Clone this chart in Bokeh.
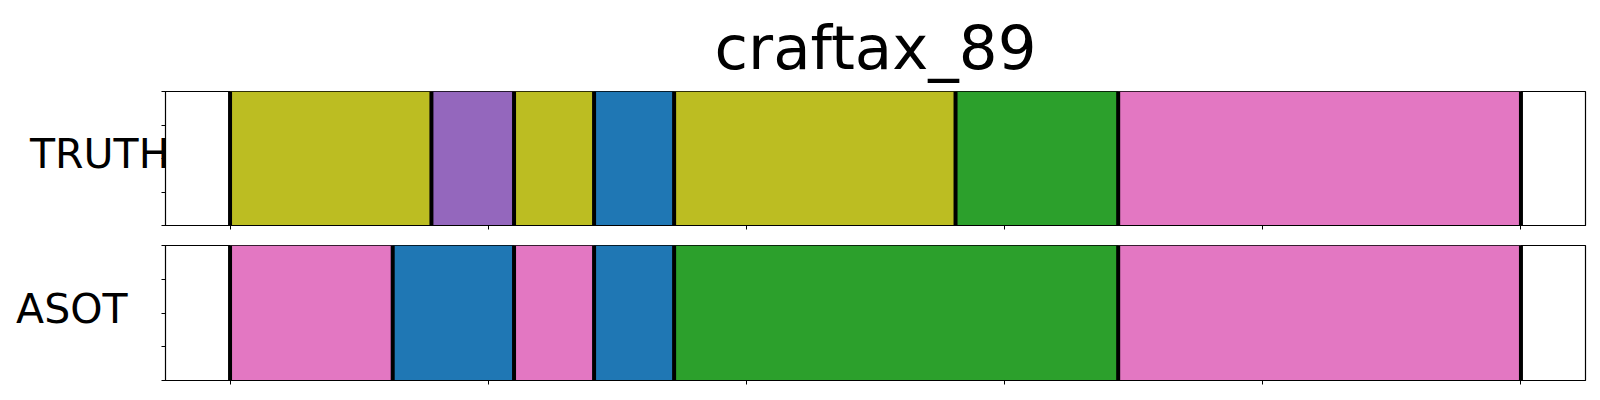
from bokeh.plotting import figure
from bokeh.layouts import column
from bokeh.models import FixedTicker, Range1d, LinearAxis
from bokeh.embed import file_html
from bokeh.resources import INLINE

# ---- data ----
title_text = "craftax_89"
row_names = ["TRUTH", "ASOT"]

truth_starts = [0, 78, 110, 141, 172, 281, 344]
truth_ends = [78, 110, 141, 172, 281, 344, 500]
truth_classes = ["olive", "purple", "olive", "blue", "olive", "green", "pink"]

asot_starts = [0, 63, 110, 141, 172, 344]
asot_ends = [63, 110, 141, 172, 344, 500]
asot_classes = ["pink", "blue", "pink", "blue", "green", "pink"]

x_ticks = [0, 100, 200, 300, 400, 500]
y_ticks = [0, 0.25, 0.5, 0.75, 1.0]

palette = {
    "blue": "#1f77b4",
    "green": "#2ca02c",
    "purple": "#9467bd",
    "pink": "#e377c2",
    "olive": "#bcbd22",
}

FONT = "DejaVu Sans"
W = 1592
NAME_Y = 0.53


def panel(name, starts, ends, classes, height, btop, bbottom, name_standoff, with_title=False):
    p = figure(width=W, height=height, x_range=Range1d(-25, 525), y_range=Range1d(0, 1),
               output_backend="svg", toolbar_location=None,
               min_border_left=165, min_border_right=7,
               min_border_top=btop, min_border_bottom=bbottom)
    p.grid.visible = False
    p.outline_line_color = "black"
    p.outline_line_width = 1.2
    p.background_fill_color = "white"

    p.quad(left=starts, right=ends, bottom=0, top=1,
           fill_color=[palette[c] for c in classes], line_color=None)
    bounds = sorted(set(starts) | set(ends))
    p.segment(x0=bounds, y0=0, x1=bounds, y1=1, line_color="black", line_width=4)

    xa = p.xaxis[0]
    xa.ticker = FixedTicker(ticks=x_ticks)
    xa.major_label_overrides = {t: "" for t in x_ticks}
    xa.major_label_text_font_size = "1px"
    xa.major_label_standoff = 0
    xa.minor_tick_line_color = None
    xa.major_tick_out = 4
    xa.major_tick_in = 0
    xa.axis_line_color = "black"
    xa.major_tick_line_color = "black"

    ya = p.yaxis[0]
    ya.ticker = FixedTicker(ticks=y_ticks)
    ya.major_label_overrides = {t: "" for t in y_ticks}
    ya.major_label_text_font_size = "1px"
    ya.major_label_standoff = 0
    ya.minor_tick_line_color = None
    ya.major_tick_out = 4
    ya.major_tick_in = 0
    ya.axis_line_color = "black"
    ya.major_tick_line_color = "black"

    name_axis = LinearAxis(ticker=FixedTicker(ticks=[NAME_Y]),
                           major_label_overrides={NAME_Y: name},
                           major_label_text_font=FONT,
                           major_label_text_font_size="41px",
                           major_label_text_color="black",
                           major_label_standoff=name_standoff,
                           major_tick_line_color=None, major_tick_out=0, major_tick_in=0,
                           minor_tick_line_color=None, axis_line_color=None)
    p.add_layout(name_axis, "left")

    if with_title:
        p.title.text = title_text
        p.title.align = "center"
        p.title.text_font = FONT
        p.title.text_font_size = "61px"
        p.title.text_font_style = "normal"
        p.title.text_color = "black"
        p.title.text_line_height = 0.9
        p.title.standoff = 18
    return p


p1 = panel(row_names[0], truth_starts, truth_ends, truth_classes, 235, 90, 10, -8, with_title=True)
p2 = panel(row_names[1], asot_starts, asot_ends, asot_classes, 157, 10, 12, 34)

layout = column(p1, p2, spacing=0)
open("out.html", "w").write(file_html(layout, INLINE))
